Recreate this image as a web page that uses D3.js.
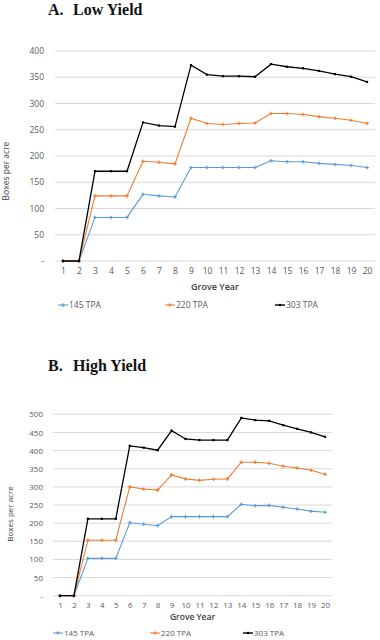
<!DOCTYPE html>
<html>
<head>
<meta charset="utf-8">
<script src="https://cdn.jsdelivr.net/npm/d3@7"></script>
<style>
  body { margin: 0; background: #fff; }
  svg { display: block; }
</style>
</head>
<body>
<div id="chart"></div>
<script>
// data
const years = d3.range(1, 21);
const seriesNames = ["145 TPA", "220 TPA", "303 TPA"];
const colors = ["#5b9bd5", "#ed7d31", "#000000"];

const lowYield145 = [0, 0, 83, 83, 83, 127, 124, 122, 178, 178, 178, 178, 178, 191, 189, 189, 186, 184, 182, 178];
const lowYield220 = [0, 0, 124, 124, 124, 190, 188, 185, 272, 262, 260, 262, 263, 281, 281, 279, 275, 272, 268, 262];
const lowYield303 = [0, 0, 171, 171, 171, 264, 258, 256, 373, 355, 352, 352, 351, 375, 370, 367, 362, 356, 351, 341];

const highYield145 = [0, 0, 103, 103, 103, 201, 197, 193, 218, 218, 218, 218, 218, 252, 248, 249, 244, 239, 233, 230];
const highYield220 = [0, 0, 153, 153, 153, 300, 294, 291, 333, 322, 318, 321, 322, 368, 368, 365, 357, 352, 346, 335];
const highYield303 = [0, 0, 212, 212, 212, 413, 408, 401, 455, 432, 429, 429, 429, 490, 484, 482, 470, 460, 450, 438];

const lowTicks = d3.range(0, 401, 50);
const highTicks = d3.range(0, 501, 50);

const w = 380, h = 640;
const svg = d3.select("#chart").append("svg")
  .attr("width", w).attr("height", h);

const labelFont = "'Open Sans', 'Liberation Sans', sans-serif";

function drawPanel(opt) {
  const g = svg.append("g");

  // title
  g.append("text")
    .attr("x", 48).attr("y", opt.titleY)
    .attr("font-family", "'Liberation Serif', 'Times New Roman', serif")
    .attr("font-weight", "bold")
    .attr("font-size", 16)
    .attr("fill", "#111")
    .text(opt.letter);
  g.append("text")
    .attr("x", 73).attr("y", opt.titleY)
    .attr("font-family", "'Liberation Serif', 'Times New Roman', serif")
    .attr("font-weight", "bold")
    .attr("font-size", 16)
    .attr("fill", "#111")
    .text(opt.title);

  const xScale = d3.scalePoint()
    .domain(years)
    .range([opt.left, opt.right])
    .padding(0.5);

  const yScale = d3.scaleLinear()
    .domain([0, opt.ticks[opt.ticks.length - 1]])
    .range([opt.bottom, opt.top]);

  // gridlines
  g.selectAll(".grid")
    .data(opt.ticks)
    .enter()
    .append("line")
    .attr("x1", opt.left).attr("x2", opt.right)
    .attr("y1", d => yScale(d)).attr("y2", d => yScale(d))
    .attr("stroke", "#d9d9d9")
    .attr("stroke-width", 1);

  // y axis labels
  const yAxis = d3.axisLeft(yScale)
    .tickValues(opt.ticks)
    .tickSize(0)
    .tickPadding(0)
    .tickFormat(d => d === 0 ? "-" : d);
  const ya = g.append("g")
    .attr("transform", "translate(" + opt.yLabelX + ",0)")
    .call(yAxis);
  ya.select(".domain").remove();
  ya.selectAll("text")
    .attr("font-family", labelFont)
    .attr("font-size", opt.fs)
    .attr("fill", "#595959");

  // x axis labels
  const xAxis = d3.axisBottom(xScale).tickSize(0).tickPadding(0);
  const xa = g.append("g")
    .attr("transform", "translate(0," + opt.xLabelY + ")")
    .call(xAxis);
  xa.select(".domain").remove();
  xa.selectAll("text")
    .attr("font-family", labelFont)
    .attr("font-size", opt.fs)
    .attr("fill", "#595959");

  // axis titles
  g.append("text")
    .attr("x", (opt.left + opt.right) / 2)
    .attr("y", opt.xTitleY)
    .attr("text-anchor", "middle")
    .attr("font-family", labelFont)
    .attr("font-weight", "600")
    .attr("font-size", opt.fs + 0.5)
    .attr("fill", "#404040")
    .text("Grove Year");

  g.append("text")
    .attr("transform", "translate(" + opt.yTitleX + "," + opt.yTitleY + ") rotate(-90)")
    .attr("text-anchor", "middle")
    .attr("font-family", labelFont)
    .attr("font-size", opt.fs)
    .attr("fill", "#404040")
    .text("Boxes per acre");

  // lines
  const line = d3.line()
    .x((d, i) => xScale(years[i]))
    .y(d => yScale(d));

  opt.series.forEach((vals, si) => {
    g.append("path")
      .datum(vals)
      .attr("fill", "none")
      .attr("stroke", colors[si])
      .attr("stroke-width", si === 2 ? 1.3 : 1.1)
      .attr("d", line);

    g.selectAll(".m" + si)
      .data(vals)
      .enter()
      .append("path")
      .attr("transform", (d, i) => "translate(" + xScale(years[i]) + "," + yScale(d) + ")")
      .attr("d", d3.symbol().type(si === 2 ? d3.symbolSquare : d3.symbolCross).size(si === 2 ? 5 : 7))
      .attr("fill", colors[si]);
  });

  // legend
  seriesNames.forEach((name, si) => {
    const lx = opt.legendX[si];
    g.append("line")
      .attr("x1", lx).attr("x2", lx + 10)
      .attr("y1", opt.legendY).attr("y2", opt.legendY)
      .attr("stroke", colors[si])
      .attr("stroke-width", si === 2 ? 1.4 : 1.1);
    g.append("path")
      .attr("transform", "translate(" + (lx + 5) + "," + opt.legendY + ")")
      .attr("d", d3.symbol().type(si === 2 ? d3.symbolSquare : d3.symbolCross).size(si === 2 ? 5 : 7))
      .attr("fill", colors[si]);
    g.append("text")
      .attr("x", lx + 11)
      .attr("y", opt.legendY)
      .attr("dy", "0.35em")
      .attr("font-family", labelFont)
      .attr("font-size", opt.fs)
      .attr("fill", "#595959")
      .text(name);
  });
}

drawPanel({
  letter: "A.", title: "Low Yield", titleY: 15,
  left: 55, right: 375, top: 51, bottom: 261,
  ticks: lowTicks,
  series: [lowYield145, lowYield220, lowYield303],
  fs: 8.5,
  yLabelX: 44, xLabelY: 268, xTitleY: 290,
  yTitleX: 9, yTitleY: 171,
  legendX: [58, 165, 275], legendY: 305
});

drawPanel({
  letter: "B.", title: "High Yield", titleY: 371,
  left: 53, right: 332, top: 414.3, bottom: 595.7,
  ticks: highTicks,
  series: [highYield145, highYield220, highYield303],
  fs: 8,
  yLabelX: 43, xLabelY: 602, xTitleY: 620,
  yTitleX: 13, yTitleY: 514,
  legendX: [53, 150, 243], legendY: 633
});
</script>
</body>
</html>
